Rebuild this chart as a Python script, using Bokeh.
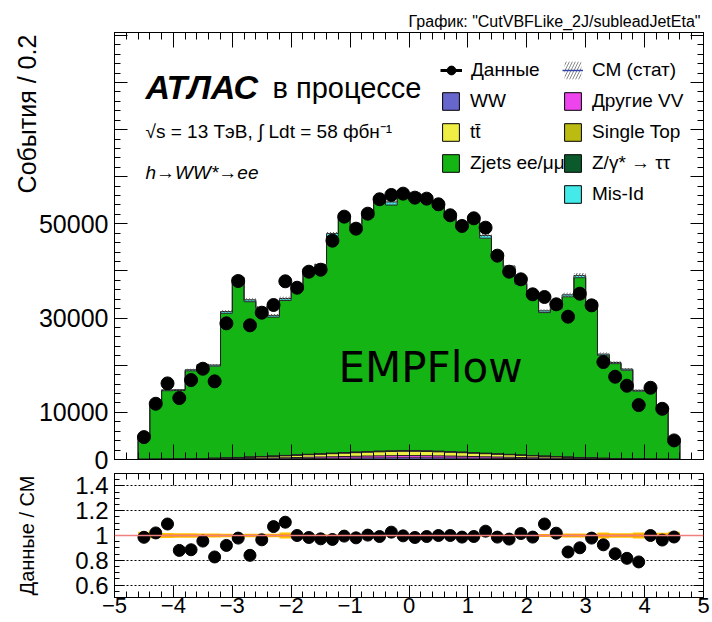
import numpy as np
from bokeh.plotting import figure
from bokeh.layouts import column
from bokeh.models import (Range1d, FixedTicker, LinearAxis, Label, Legend, LegendItem, Span, Grid)
from bokeh.embed import file_html
from bokeh.resources import INLINE

# ---------------- data ----------------
bin_low, bin_high, bin_width = -4.6, 4.6, 0.2

data_counts = [4750, 11830, 16150, 13040, 16860, 19260, 16580, 28890, 37870, 28470, 31150, 32780,
               37810, 36450, 39850, 40270, 46430, 51530, 48980, 52160, 55220, 56130, 56410,
               55560, 55350, 54150, 51820, 49550, 51180, 49190, 43250, 39850, 38230, 35050, 34480,
               32930, 30300, 35180, 32710, 20680, 17560, 15650, 11550, 15220, 10760, 4050]

mc_total = [4820, 11590, 14780, 14820, 19050, 20170, 20050, 31400, 38680, 33890, 32280, 30580,
            34150, 36450, 40500, 41390, 47960, 51790, 49930, 52000, 55670, 54650, 56580,
            56460, 55800, 54150, 51820, 50200, 51590, 47530, 43820, 41040, 37630, 35510, 31550,
            32320, 34950, 39050, 33410, 22360, 20590, 19180, 14680, 15220, 11170, 4100]

ww = [8, 12, 18, 24, 32, 42, 54, 68, 84, 102, 122, 142, 164, 186, 208, 230, 252, 274, 296, 316, 334, 350, 362,
      360, 348, 332, 314, 294, 272, 250, 228, 206, 184, 162, 140, 120, 100, 82, 66, 52, 40, 31, 23, 17, 12, 8]
other_vv = [10, 15, 22, 30, 40, 52, 66, 84, 104, 128, 154, 180, 210, 240, 270, 300, 330, 360, 390, 420, 445, 465, 480,
            478, 462, 442, 418, 388, 358, 328, 298, 268, 238, 208, 180, 152, 126, 102, 82, 64, 50, 39, 30, 22, 15, 10]
ttbar = [20, 30, 40, 55, 70, 90, 120, 160, 200, 250, 300, 350, 410, 470, 530, 590, 650, 710, 760, 810, 850, 880, 900,
         905, 885, 850, 805, 760, 705, 645, 590, 525, 465, 405, 345, 295, 245, 200, 160, 120, 92, 70, 55, 40, 30, 20]
single_top = [2, 3, 4, 6, 8, 10, 13, 17, 21, 26, 31, 36, 42, 48, 54, 60, 66, 72, 78, 83, 88, 92, 95,
              95, 91, 87, 82, 77, 71, 65, 59, 53, 47, 41, 35, 30, 25, 20, 16, 12, 10, 8, 6, 4, 3, 2]
ztautau = [3, 5, 7, 9, 11, 14, 17, 20, 24, 28, 32, 36, 40, 44, 48, 52, 56, 60, 64, 67, 70, 72, 74,
           74, 72, 69, 66, 63, 59, 55, 51, 47, 43, 39, 35, 31, 27, 23, 20, 17, 14, 11, 9, 7, 5, 3]
misid = [60, 140, 180, 180, 230, 240, 240, 380, 460, 410, 390, 370, 410, 440, 490, 500, 580, 620, 600, 620, 670, 660, 680,
         680, 670, 650, 620, 600, 620, 570, 530, 490, 450, 430, 380, 390, 420, 470, 400, 270, 250, 230, 180, 180, 130, 50]

stat_rel = [0.016, 0.012, 0.011, 0.011, 0.010, 0.010, 0.010, 0.009, 0.008, 0.009, 0.009, 0.009, 0.011, 0.006,
            0.006, 0.006, 0.006, 0.006, 0.006, 0.006, 0.006, 0.006, 0.006, 0.006, 0.006, 0.006, 0.006, 0.006,
            0.006, 0.006, 0.006, 0.006, 0.006, 0.006, 0.010, 0.013, 0.013, 0.013, 0.013, 0.015, 0.013, 0.013,
            0.015, 0.013, 0.014, 0.016]
total_rel = [0.030, 0.022, 0.020, 0.018, 0.018, 0.016, 0.016, 0.015, 0.013, 0.014, 0.014, 0.015, 0.024, 0.009,
             0.008, 0.008, 0.008, 0.008, 0.008, 0.008, 0.008, 0.008, 0.008, 0.008, 0.008, 0.008, 0.008, 0.008,
             0.008, 0.008, 0.008, 0.008, 0.008, 0.008, 0.012, 0.016, 0.016, 0.016, 0.016, 0.024, 0.019, 0.019,
             0.024, 0.020, 0.022, 0.030]

x_ticks = [-5, -4, -3, -2, -1, 0, 1, 2, 3, 4, 5]
x_tick_labels = {t: (str(t).replace("-", "\u2212")) for t in x_ticks}
y_ticks = [0, 10000, 20000, 30000, 40000, 50000, 60000, 70000, 80000, 90000]
y_tick_labels = {0: "0", 10000: "10000", 30000: "30000", 50000: "50000",
                 20000: "", 40000: "", 60000: "", 70000: "", 80000: "", 90000: ""}
r_ticks = [0.6, 0.8, 1.0, 1.2, 1.4]
r_tick_labels = {1: "1"}

colors = {"WW": "#6666cc", "VV": "#ee44ee", "tt": "#eeee44", "st": "#bbbb11",
          "Zjets": "#14b414", "Ztt": "#0b5a2c", "MisId": "#44eaea"}

FONT = "Liberation Sans"
NBSP = "\u00a0"

# ---------------- derived ----------------
edges = np.round(np.arange(bin_low, bin_high + 1e-9, bin_width), 1)
left, right = edges[:-1], edges[1:]
centers = (left + right) / 2
data_arr = np.array(data_counts, float)
mc_arr = np.array(mc_total, float)
small = np.array(ww) + np.array(other_vv) + np.array(ttbar) + np.array(single_top) + np.array(ztautau) + np.array(misid)
zjets = mc_arr - small
stack = [("WW", ww), ("VV", other_vv), ("tt", ttbar), ("st", single_top), ("Ztt", ztautau),
         ("Zjets", zjets), ("MisId", misid)]
ratio = data_arr / mc_arr
NAN = [float("nan")]


def stair(vals):
    xs, ys = [edges[0]], [0.0]
    for i, v in enumerate(vals):
        xs += [edges[i], edges[i + 1]]
        ys += [v, v]
    xs.append(edges[-1]); ys.append(0.0)
    return xs, ys


def band(lo, hi):
    xs, ys = [], []
    for i in range(len(hi)):
        xs += [edges[i], edges[i + 1]]
        ys += [hi[i], hi[i]]
    for i in reversed(range(len(lo))):
        xs += [edges[i + 1], edges[i]]
        ys += [lo[i], lo[i]]
    return xs, ys


def make_axis(ticks, minors, tin, minin, labels=None, font_size="25px", standoff=6):
    ax = LinearAxis(ticker=FixedTicker(ticks=ticks, minor_ticks=minors))
    ax.major_tick_in = tin
    ax.major_tick_out = 0
    ax.minor_tick_in = minin
    ax.minor_tick_out = 0
    ax.axis_line_color = "black"
    ax.major_tick_line_color = "black"
    ax.minor_tick_line_color = "black"
    if labels is None:
        ax.major_label_text_color = None
        ax.major_label_text_font_size = "1px"
        ax.major_label_standoff = 0
    else:
        ax.major_label_overrides = labels
        ax.major_label_text_font = FONT
        ax.major_label_text_font_size = font_size
        ax.major_label_text_color = "black"
        ax.major_label_standoff = standoff
    return ax


def set_title(ax, text, standoff, size):
    ax.axis_label = text
    ax.axis_label_text_font = FONT
    ax.axis_label_text_font_size = size
    ax.axis_label_text_font_style = "normal"
    ax.axis_label_text_color = "black"
    ax.axis_label_standoff = standoff


x_minor = [float(v) for v in np.round(np.arange(-5, 5.0001, 0.2), 1)]
y_minor = list(range(0, 90001, 2000))
r_minor = [float(v) for v in np.round(np.arange(0.5, 1.5001, 0.05), 2)]

# ---------------- main panel ----------------
p = figure(width=712, height=473, x_range=Range1d(-5, 5), y_range=Range1d(0, 90600),
           output_backend="svg", toolbar_location=None, x_axis_location=None, y_axis_location=None,
           min_border_left=114, min_border_right=9, min_border_top=32, min_border_bottom=14,
           title='График: "CutVBFLike_2J/subleadJetEta"')
p.title.align = "right"
p.title.text_font = FONT
p.title.text_font_size = "16px"
p.title.text_font_style = "normal"
p.title.text_color = "black"
p.title.standoff = 6
p.title.offset = 3
p.grid.visible = False
p.outline_line_color = "black"
p.background_fill_color = "white"

base = np.zeros(len(centers))
for key, vals in stack:
    vals = np.array(vals, float)
    xs, ys = band(base, base + vals)
    p.patch(xs, ys, fill_color=colors[key], line_color=None)
    base = base + vals
base = np.zeros(len(centers))
for key, vals in stack:
    base = base + np.array(vals, float)
    xs, ys = stair(base)
    p.line(xs, ys, line_color="#222222", line_width=1)

p.quad(left=left, right=right, bottom=mc_arr * (1 - np.array(stat_rel)), top=mc_arr * (1 + np.array(stat_rel)),
       fill_alpha=0, line_color=None, hatch_pattern="/", hatch_color="#666666", hatch_scale=6, hatch_weight=1)
p.scatter(centers, data_arr, size=13, color="black")

p.add_layout(make_axis(x_ticks, x_minor, 15, 7), "below")
p.add_layout(make_axis(x_ticks, x_minor, 15, 7), "above")
yl = make_axis(y_ticks, y_minor, 13, 6, labels=y_tick_labels, font_size="25px", standoff=6)
# leading no-break spaces keep the title at the top end of the axis, as in the reference
set_title(yl, NBSP * 38 + "События / 0.2", -5, "25px")
p.add_layout(yl, "left")
p.add_layout(make_axis(y_ticks, y_minor, 13, 6), "right")

# legend (hidden renderers with NaN data, used only for legend glyphs)
leg_data = [p.line(NAN, NAN, line_color="black", line_width=3), p.scatter(NAN, NAN, size=12, color="black")]
leg_sm = [p.quad(left=NAN, right=NAN, top=NAN, bottom=NAN, fill_alpha=0, line_color=None,
                 hatch_pattern="/", hatch_color="#888888", hatch_scale=6, hatch_weight=1),
          p.line(NAN, NAN, line_color="#3344aa", line_width=1.5)]


def box(key):
    return p.quad(left=NAN, right=NAN, top=NAN, bottom=NAN, fill_color=colors[key], line_color="black", line_width=1)


def legend(items, x, y, gw, gh, sd):
    lg = Legend(items=items, location=(x, y), glyph_width=gw, glyph_height=gh, label_standoff=sd,
                spacing=9, padding=0, margin=0, border_line_color=None, background_fill_alpha=0,
                label_text_font=FONT, label_text_font_size="19px", label_height=22, label_text_color="black")
    p.add_layout(lg)


legend([LegendItem(label="Данные", renderers=leg_data)], 326, 375, 22, 28, 9)
legend([LegendItem(label="WW", renderers=[box("WW")]),
        LegendItem(label="tt\u0304", renderers=[box("tt")]),
        LegendItem(label="Zjets ee/μμ", renderers=[box("Zjets")])], 326, 285, 21, 22, 9)
legend([LegendItem(label="СМ (стат)", renderers=leg_sm),
        LegendItem(label="Другие VV", renderers=[box("VV")]),
        LegendItem(label="Single Top", renderers=[box("st")]),
        LegendItem(label="Z/γ* → ττ", renderers=[box("Ztt")]),
        LegendItem(label="Mis-Id", renderers=[box("MisId")])], 448, 254, 21, 22, 9)

p.add_layout(Label(x=31, y=373, x_units="screen", y_units="screen", text="АТЛАС", text_baseline="middle",
                   text_font=FONT, text_font_size="34px", text_font_style="bold italic", text_color="black"))
p.add_layout(Label(x=158, y=372, x_units="screen", y_units="screen", text="в процессе", text_baseline="middle",
                   text_font=FONT, text_font_size="29px", text_color="black"))
p.add_layout(Label(x=31, y=328, x_units="screen", y_units="screen", text="√s = 13 ТэВ, ∫ Ldt = 58 фбн⁻¹",
                   text_baseline="middle", text_font=FONT, text_font_size="19px", text_color="black"))
p.add_layout(Label(x=31, y=287, x_units="screen", y_units="screen", text="h→WW*→ee", text_baseline="middle",
                   text_font=FONT, text_font_size="19px", text_font_style="italic", text_color="black"))
p.add_layout(Label(x=224, y=92, x_units="screen", y_units="screen", text="EMPFlow", text_baseline="middle",
                   text_font="DejaVu Sans", text_font_size="42px", text_color="black"))

# ---------------- ratio panel ----------------
r = figure(width=712, height=149, x_range=p.x_range, y_range=Range1d(0.5, 1.5),
           output_backend="svg", toolbar_location=None, x_axis_location=None, y_axis_location=None,
           min_border_left=114, min_border_right=9, min_border_top=0, min_border_bottom=25)
r.grid.visible = False
r.outline_line_color = "black"
r.add_layout(Grid(dimension=1, ticker=FixedTicker(ticks=[0.6, 0.8, 1.2, 1.4]), grid_line_color="black",
                  grid_line_dash="2 2", grid_line_width=1))
r.add_layout(Span(location=1, dimension="width", line_color="#f08080", line_width=1.5))
tr = np.array(total_rel); sr = np.array(stat_rel)
xs, ys = band(1 - tr, 1 + tr)
r.patch(xs, ys, fill_color="#ffc400", line_color=None)
xs, ys = band(1 - sr, 1 + sr)
r.patch(xs, ys, fill_color="#ff9a00", line_color=None)
r.line([edges[0], edges[-1]], [1, 1], line_color="#f04020", line_width=1.2)
r.scatter(centers, ratio, size=12, color="black")

r.add_layout(make_axis(x_ticks, x_minor, 12, 6, labels=x_tick_labels, font_size="22px", standoff=0), "below")
r.add_layout(make_axis(x_ticks, x_minor, 12, 6), "above")
rl = make_axis(r_ticks, r_minor, 10, 5, labels=r_tick_labels, font_size="24px", standoff=6)
set_title(rl, "Данные / СМ", 34, "20px")
r.add_layout(rl, "left")
r.add_layout(make_axis(r_ticks, r_minor, 10, 5), "right")

layout = column(p, r, spacing=0)
open("out.html", "w").write(file_html(layout, INLINE))
